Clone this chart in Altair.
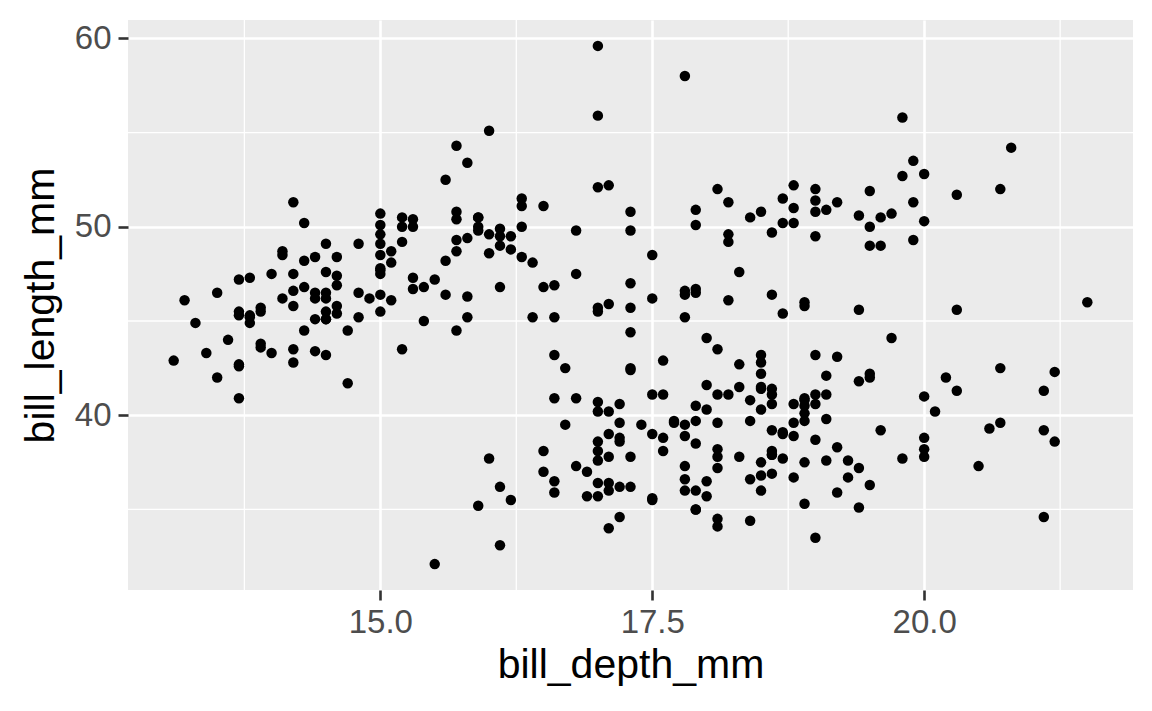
import altair as alt
import pandas as pd

# bill_depth_mm, bill_length_mm (Adelie, Gentoo, Chinstrap rows)
bill_depth_mm = [
18.7,17.4,18.0,19.3,20.6,17.8,19.6,18.1,20.2,17.1,17.3,17.6,21.2,21.1,17.8,19.0,20.7,18.4,21.5,18.3,
18.7,19.2,18.1,17.2,18.9,18.6,17.9,18.6,18.9,16.7,18.1,17.8,18.9,17.0,21.1,20.0,18.5,19.3,19.1,18.0,
18.4,18.5,19.7,16.9,18.8,19.0,18.9,17.9,21.2,17.7,18.9,17.9,19.5,18.1,18.6,17.5,18.8,16.6,19.1,16.9,
21.1,17.0,18.2,17.1,18.0,16.2,19.1,16.6,19.4,19.0,18.4,17.2,18.9,17.5,18.5,16.8,19.4,16.1,19.1,17.2,
17.6,18.8,19.4,17.8,20.3,19.5,18.6,19.2,18.8,18.0,18.1,17.1,18.1,17.3,18.9,18.6,18.5,16.1,18.5,17.9,
20.0,16.0,20.0,18.6,18.9,17.2,20.0,17.0,19.0,16.5,20.3,17.7,19.5,20.7,18.3,17.0,20.5,17.0,18.6,17.2,
19.8,17.0,18.5,15.9,19.0,17.6,18.3,17.1,18.0,17.9,19.2,18.5,18.5,17.6,17.5,17.5,20.1,16.5,17.9,17.1,
17.2,15.5,17.0,16.8,18.7,18.6,18.4,17.8,18.1,17.1,18.5,
13.2,16.3,14.1,15.2,14.5,13.5,14.6,15.3,13.4,15.4,13.7,16.1,13.7,14.6,14.6,15.7,13.5,15.2,14.5,15.1,
14.3,14.5,14.5,15.8,13.1,15.1,14.3,15.0,14.3,15.3,15.3,14.2,14.5,17.0,14.8,16.3,13.7,17.3,13.6,15.7,
13.7,16.0,13.7,15.0,15.9,13.9,13.9,15.9,13.3,15.8,14.2,14.1,14.4,15.0,14.4,15.4,13.9,15.0,14.5,15.3,
13.8,14.9,13.9,15.7,14.2,16.8,14.4,16.2,14.2,15.0,15.0,15.6,15.6,14.8,15.0,16.0,14.2,16.3,13.8,16.4,
14.5,15.6,14.6,15.9,13.8,17.3,14.4,14.2,14.0,17.0,15.0,17.1,14.5,16.1,14.7,15.7,15.8,14.6,14.4,16.5,
15.0,17.0,15.5,15.0,13.8,16.1,14.7,15.8,14.0,15.1,15.2,15.9,15.2,16.3,14.1,16.0,15.7,16.2,13.7,14.3,
15.7,14.8,16.1,
17.9,19.5,19.2,18.7,19.8,17.8,18.2,18.2,18.9,19.9,17.8,20.3,17.3,18.1,17.1,19.6,20.0,17.8,18.6,18.2,
17.3,17.5,16.6,19.4,17.9,19.0,18.4,19.0,17.8,20.0,16.6,20.8,16.7,18.8,18.6,16.8,18.3,20.7,16.6,19.9,
19.5,17.5,19.1,17.0,17.9,18.5,17.9,19.6,18.7,17.3,16.4,19.0,17.3,19.7,17.3,18.8,16.6,19.9,18.8,19.4,
19.5,16.5,17.0,19.8,18.1,18.2,19.0,18.7,
]
bill_length_mm = [
39.1,39.5,40.3,36.7,39.3,38.9,39.2,34.1,42.0,37.8,37.8,41.1,38.6,34.6,36.6,38.7,42.5,34.4,46.0,37.8,
37.7,35.9,38.2,38.8,35.3,40.6,40.5,37.9,40.5,39.5,37.2,39.5,40.9,36.4,39.2,38.8,42.2,37.6,39.8,36.5,
40.8,36.0,44.1,37.0,39.6,41.1,37.5,36.0,42.3,39.6,40.1,35.0,42.0,34.5,41.4,39.0,40.6,36.5,37.6,35.7,
41.3,37.6,41.1,36.4,41.6,35.5,41.1,35.9,41.8,33.5,39.7,39.6,45.8,35.5,42.8,40.9,37.2,36.2,42.1,34.6,
42.9,36.7,35.1,37.3,41.3,36.3,36.9,38.3,38.9,35.7,41.1,34.0,39.6,36.2,40.8,38.1,40.3,33.1,43.2,35.0,
41.0,37.7,37.8,37.9,39.7,38.6,38.2,38.1,43.2,38.1,45.6,39.7,42.2,39.6,42.7,38.6,37.3,35.7,41.1,36.2,
37.7,40.2,41.4,35.2,40.6,38.8,41.5,39.0,44.1,38.5,43.1,36.8,37.5,38.1,41.1,35.6,40.2,37.0,39.7,40.2,
40.6,32.1,40.7,37.3,39.0,39.2,36.6,36.0,37.8,36.0,41.5,
46.1,50.0,48.7,50.0,47.6,46.5,45.4,46.7,43.3,46.8,40.9,49.0,45.5,48.4,45.8,49.3,42.0,49.2,46.2,48.7,
50.2,45.1,46.5,46.3,42.9,46.1,44.5,47.8,48.2,50.0,47.3,42.8,45.1,59.6,49.1,48.4,42.6,44.4,44.0,48.7,
42.7,49.6,45.3,49.6,50.5,43.6,45.5,50.5,44.9,45.2,46.6,48.5,45.1,50.1,46.5,45.0,43.8,45.5,43.2,50.4,
45.3,46.2,45.7,54.3,45.8,49.8,46.2,49.5,43.5,50.7,47.7,46.4,48.2,46.5,46.4,48.6,47.5,51.1,45.2,45.2,
49.1,52.5,47.4,50.0,44.9,50.8,43.4,51.3,47.5,52.1,47.5,52.2,45.5,49.5,44.5,50.8,49.4,46.9,48.4,51.1,
48.5,55.9,47.2,49.1,47.3,46.8,41.7,53.4,43.3,48.1,50.5,49.8,43.5,51.5,46.2,55.1,44.5,48.8,47.2,46.8,
50.4,45.2,49.9,
46.5,50.0,51.3,45.4,52.7,45.2,46.1,51.3,46.0,51.3,46.6,51.7,47.0,52.0,45.9,50.5,50.3,58.0,46.4,49.2,
42.4,48.5,43.2,50.6,46.7,52.0,50.5,49.5,46.4,52.8,40.9,54.2,42.5,51.0,49.7,47.5,47.6,52.0,46.9,53.5,
49.0,46.2,50.9,45.5,50.9,50.8,50.1,49.0,51.5,49.8,48.1,51.4,45.7,50.7,42.5,52.2,45.2,49.3,50.2,45.6,
51.9,46.8,45.7,55.8,43.5,49.6,50.8,50.2,
]

x_major = [15.0, 17.5, 20.0]
y_major = [40, 50, 60]
x_minor = [13.75, 16.25, 18.75, 21.25]
y_minor = [35, 45, 55]

df = pd.DataFrame({"bill_depth_mm": bill_depth_mm, "bill_length_mm": bill_length_mm})

xs = alt.Scale(domain=[12.68, 21.92], nice=False, zero=False)
ys = alt.Scale(domain=[30.725, 60.975], nice=False, zero=False)

FONT = "Liberation Sans"

ax_x = alt.Axis(values=x_major, format=".1f", title="bill_depth_mm",
                labelPadding=6, titlePadding=6)
ax_y = alt.Axis(values=y_major, format="d", title="bill_length_mm",
                labelPadding=7, titlePadding=12)

xminor = alt.Chart(pd.DataFrame({"v": x_minor})).mark_rule(color="white", strokeWidth=1.3).encode(
    x=alt.X("v:Q", scale=xs, axis=ax_x))
yminor = alt.Chart(pd.DataFrame({"v": y_minor})).mark_rule(color="white", strokeWidth=1.3).encode(
    y=alt.Y("v:Q", scale=ys, axis=ax_y))

points = alt.Chart(df).mark_circle(size=110, color="black", opacity=1).encode(
    x=alt.X("bill_depth_mm:Q", scale=xs, axis=ax_x),
    y=alt.Y("bill_length_mm:Q", scale=ys, axis=ax_y),
)

chart = alt.layer(xminor, yminor, points).properties(
    width=1005, height=570,
    autosize=alt.AutoSizeParams(type="none"),
    padding={"left": 120, "top": 12, "right": 11, "bottom": 113},
    background="white",
).configure_view(
    fill="#EBEBEB", stroke=None
).configure_axis(
    grid=True, gridColor="white", gridWidth=2.6, domain=False,
    tickColor="#333333", tickWidth=2.6, tickSize=10,
    labelColor="#4D4D4D", labelFontSize=33, labelFont=FONT,
    titleFontSize=41, titleFont=FONT, titleColor="black", titleFontWeight="normal",
)

chart.save("out.html", embed_options={"renderer": "svg", "actions": False})
